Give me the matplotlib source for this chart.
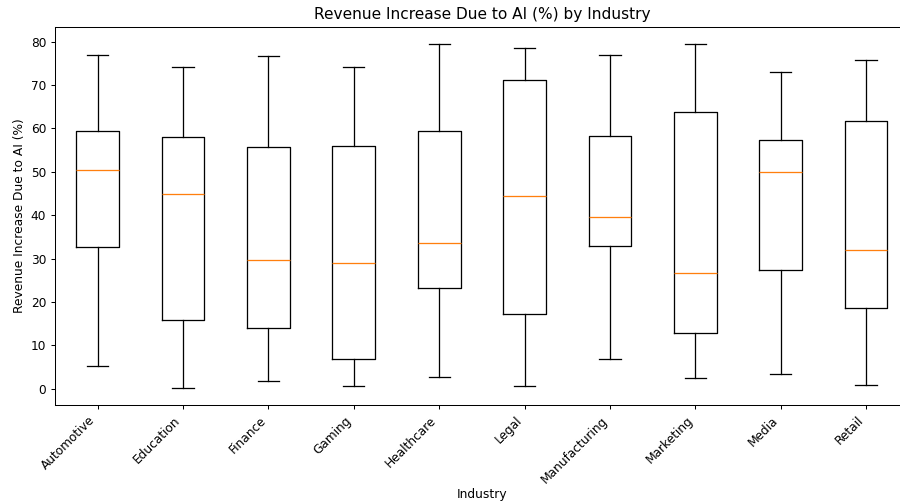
import matplotlib
matplotlib.use("Agg")
import matplotlib.pyplot as plt

industries = ["Automotive", "Education", "Finance", "Gaming", "Healthcare",
              "Legal", "Manufacturing", "Marketing", "Media", "Retail"]
whislo = [5.2, 0.2, 1.8, 0.7, 2.6, 0.7, 6.8, 2.4, 3.5, 0.8]
q1 = [32.6, 15.8, 14.1, 6.8, 23.3, 17.3, 32.9, 12.9, 27.3, 18.7]
med = [50.5, 44.8, 29.6, 29.0, 33.6, 44.5, 39.6, 26.6, 49.9, 32.0]
q3 = [59.4, 58.1, 55.7, 55.9, 59.5, 71.1, 58.3, 63.9, 57.3, 61.8]
whishi = [76.9, 74.1, 76.6, 74.1, 79.5, 78.6, 76.9, 79.4, 73.1, 75.9]

stats = [dict(label=lab, whislo=a, q1=b, med=c, q3=d, whishi=e, fliers=[])
         for lab, a, b, c, d, e in zip(industries, whislo, q1, med, q3, whishi)]

DPI = 92
fig = plt.figure(figsize=(900 / DPI, 502 / DPI), dpi=DPI)
ax = fig.add_axes([0.0611, 0.1932, 0.9486, 0.7536])
ax.bxp(stats, showfliers=False)
ax.set_xlim(0.5, len(industries) + 0.5)
ax.set_title("Revenue Increase Due to AI (%) by Industry", fontsize=12)
ax.set_xlabel("Industry", fontsize=9.6, labelpad=2)
ax.set_ylabel("Revenue Increase Due to AI (%)", fontsize=9.6)
ax.tick_params(axis="both", labelsize=9.5)
plt.setp(ax.get_xticklabels(), rotation=45, ha="right")
fig.savefig("out.png", dpi=DPI)
